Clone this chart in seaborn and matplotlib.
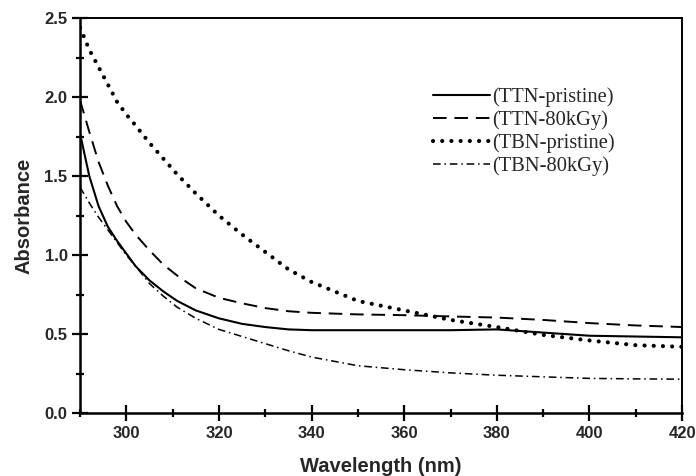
import numpy as np
import pandas as pd
import matplotlib
matplotlib.use("Agg")
import matplotlib.pyplot as plt
from matplotlib.ticker import MultipleLocator
import seaborn as sns

wavelength = [290, 292, 294, 296, 298, 300, 302, 305, 308, 311, 315, 320, 325,
              330, 335, 340, 350, 360, 370, 380, 390, 400, 410, 420]
ttn_pristine = [1.77, 1.50, 1.31, 1.18, 1.09, 1.01, 0.93, 0.84, 0.77, 0.71, 0.65, 0.60,
                0.565, 0.545, 0.53, 0.525, 0.525, 0.525, 0.525, 0.53, 0.51, 0.49, 0.485, 0.48]
ttn_80kgy = [1.98, 1.78, 1.59, 1.44, 1.31, 1.21, 1.13, 1.03, 0.94, 0.87, 0.79, 0.73,
             0.695, 0.665, 0.645, 0.635, 0.625, 0.62, 0.612, 0.605, 0.59, 0.57, 0.555, 0.545]
tbn_pristine = [2.44, 2.30, 2.19, 2.08, 1.97, 1.89, 1.82, 1.71, 1.61, 1.51, 1.39, 1.25,
                1.13, 1.02, 0.91, 0.83, 0.71, 0.65, 0.59, 0.545, 0.495, 0.46, 0.43, 0.42]
tbn_80kgy = [1.43, 1.33, 1.24, 1.16, 1.08, 1.00, 0.93, 0.82, 0.74, 0.67, 0.60, 0.53,
             0.485, 0.44, 0.395, 0.355, 0.30, 0.275, 0.255, 0.24, 0.23, 0.22, 0.217, 0.215]
labels = ["(TTN-pristine)", "(TTN-80kGy)", "(TBN-pristine)", "(TBN-80kGy)"]
xticks = [300, 320, 340, 360, 380, 400, 420]
yticks = [0.0, 0.5, 1.0, 1.5, 2.0, 2.5]

sns.set_style("ticks")
plt.rcParams['font.family'] = ['Liberation Sans', 'DejaVu Sans']

fig = plt.figure(figsize=(6.96, 4.76), dpi=100)
ax = fig.add_axes([0.115, 0.132, 0.865, 0.830])

series = [ttn_pristine, ttn_80kgy, tbn_pristine, tbn_80kgy]
styles = [
    dict(linestyle='-', linewidth=1.5),
    dict(linestyle=(0, (7, 4)), linewidth=1.4),
    dict(linestyle=(0, (0.01, 2.2)), linewidth=3.0, dash_capstyle='round'),
    dict(linestyle=(0, (5, 2.5, 1, 2.5)), linewidth=1.1),
]
for vals, lab, st in zip(series, labels, styles):
    sns.lineplot(x=wavelength, y=vals, ax=ax, color='black', label=lab, **st)

ax.set_xlim(290, 420)
ax.set_ylim(0, 2.5)
ax.xaxis.set_minor_locator(MultipleLocator(10))
ax.yaxis.set_minor_locator(MultipleLocator(0.25))
ax.set_xticks(xticks)
ax.set_xticklabels([str(v) for v in xticks], fontweight='bold')
ax.set_yticks(yticks)
ax.set_yticklabels([f"{v:.1f}" for v in yticks], fontweight='bold')
ax.tick_params(which='major', direction='inout', length=12, width=1.6,
               labelsize=12, pad=3, color='black')
ax.tick_params(which='minor', direction='inout', length=6, width=1.6, color='black')

for side in ['left', 'bottom']:
    ax.spines[side].set_linewidth(1.8)
for side in ['top', 'right']:
    ax.spines[side].set_visible(True)
    ax.spines[side].set_linewidth(1.4)
for sp in ax.spines.values():
    sp.set_color('black')

ax.set_xlabel('Wavelength (nm)', fontsize=14.5, fontweight='bold', labelpad=12)
ax.set_ylabel('Absorbance', fontsize=14.5, fontweight='bold', labelpad=8)

leg = ax.legend(loc='upper left', bbox_to_anchor=(0.572, 0.845), frameon=False,
                prop={'family': 'Liberation Serif', 'size': 14.8},
                handlelength=2.8, handletextpad=0.1, labelspacing=0.16,
                borderaxespad=0)
for h in leg.get_lines():
    h.set_color('black')

fig.savefig('out.png', dpi=100)
